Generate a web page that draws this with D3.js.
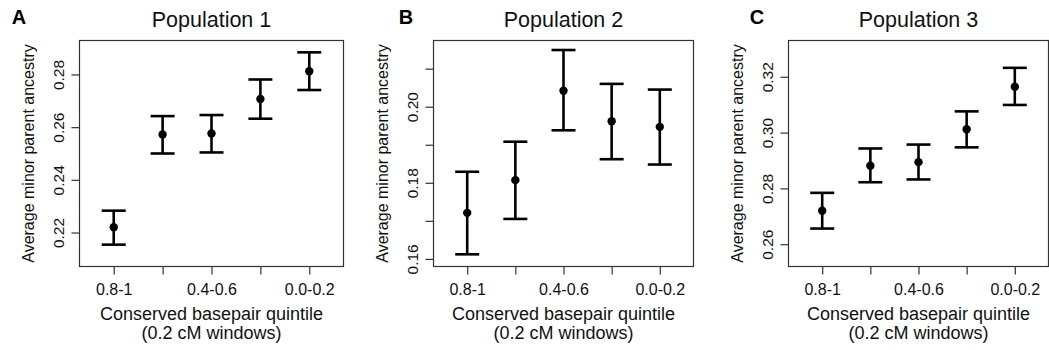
<!DOCTYPE html>
<html>
<head>
<meta charset="utf-8">
<script src="https://cdn.jsdelivr.net/npm/d3@7"></script>
<style>
  body { margin: 0; background: #fff; }
  svg { font-family: "Liberation Sans", Arial, sans-serif; display: block; }
</style>
</head>
<body>
<svg id="fig" width="1049" height="350"></svg>
<script>
// quintiles of conserved basepairs, most conserved first
const categories = ['0.8-1', '0.6-0.8', '0.4-0.6', '0.2-0.4', '0.0-0.2'];
const xTickLabels = ['0.8-1', '', '0.4-0.6', '', '0.0-0.2'];

const panelLetters = ['A', 'B', 'C'];
const panelTitles = ['Population 1', 'Population 2', 'Population 3'];

// population 1
const mean1  = [0.2220, 0.2572, 0.2576, 0.2707, 0.2812];
const lower1 = [0.2154, 0.2500, 0.2504, 0.2632, 0.2741];
const upper1 = [0.2283, 0.2642, 0.2646, 0.2781, 0.2884];
const yTicks1 = [0.22, 0.24, 0.26, 0.28];
const yTickLabels1 = ['0.22', '0.24', '0.26', '0.28'];

// population 2
const mean2  = [0.1721, 0.1807, 0.2042, 0.1962, 0.1947];
const lower2 = [0.1612, 0.1705, 0.1938, 0.1862, 0.1848];
const upper2 = [0.1829, 0.1908, 0.2149, 0.2060, 0.2045];
const yTicks2 = [0.16, 0.17, 0.18, 0.19, 0.20, 0.21];
const yTickLabels2 = ['0.16', '', '0.18', '', '0.20', ''];

// population 3
const mean3  = [0.2720, 0.2881, 0.2894, 0.3012, 0.3164];
const lower3 = [0.2656, 0.2822, 0.2832, 0.2947, 0.3099];
const upper3 = [0.2784, 0.2943, 0.2957, 0.3076, 0.3232];
const yTicks3 = [0.26, 0.28, 0.30, 0.32];
const yTickLabels3 = ['0.26', '0.28', '0.30', '0.32'];

const yDomains = [[0.2071, 0.2929], [0.1580, 0.2174], [0.2520, 0.3330]];

const svg = d3.select('#fig');

const panels = [
  {mean: mean1, lower: lower1, upper: upper1, ticks: yTicks1, labels: yTickLabels1, left: 79.5, width: 264, letterX: 19},
  {mean: mean2, lower: lower2, upper: upper2, ticks: yTicks2, labels: yTickLabels2, left: 433.5, width: 260, letterX: 406},
  {mean: mean3, lower: lower3, upper: upper3, ticks: yTicks3, labels: yTickLabels3, left: 788.5, width: 260, letterX: 757}
];

const plotTop = 40.5, height = 226;

panels.forEach((p, i) => {
  const x = d3.scaleLinear().domain([0.3, 5.7]).range([0, p.width]);
  const y = d3.scaleLinear().domain(yDomains[i]).range([height, 0]);

  const g = svg.append('g').attr('transform', `translate(${p.left},${plotTop})`);

  // panel letter and title
  svg.append('text')
    .attr('x', p.letterX).attr('y', 24)
    .attr('text-anchor', 'middle')
    .attr('font-weight', 'bold')
    .attr('font-size', 20)
    .text(panelLetters[i]);

  g.append('text')
    .attr('x', p.width / 2).attr('y', -14)
    .attr('text-anchor', 'middle')
    .attr('font-size', 21.5)
    .attr('fill', '#111')
    .text(panelTitles[i]);

  // x axis
  const xAxis = g.append('g')
    .attr('transform', `translate(0,${height})`)
    .call(d3.axisBottom(x)
      .tickValues(d3.range(1, categories.length + 1))
      .tickSize(8)
      .tickPadding(9)
      .tickFormat((d, k) => xTickLabels[k]));
  xAxis.select('.domain').remove();
  xAxis.selectAll('line').attr('stroke', '#333').attr('stroke-width', 1.2);
  xAxis.attr('font-size', 16).attr('font-family', null);
  xAxis.selectAll('text').attr('fill', '#111');

  // y axis, labels rotated as in base R
  const yAxis = g.append('g')
    .call(d3.axisLeft(y)
      .tickValues(p.ticks)
      .tickSize(8)
      .tickFormat((d, k) => p.labels[k]));
  yAxis.select('.domain').remove();
  yAxis.selectAll('line').attr('stroke', '#333').attr('stroke-width', 1.2);
  yAxis.attr('font-size', 15.5).attr('font-family', null);
  yAxis.selectAll('text')
    .attr('x', null).attr('dy', null)
    .attr('transform', 'translate(-16,0) rotate(-90)')
    .attr('text-anchor', 'middle')
    .attr('fill', '#111');

  // axis titles
  g.append('text')
    .attr('x', p.width / 2).attr('y', 320 - plotTop)
    .attr('text-anchor', 'middle')
    .attr('font-size', 18).attr('fill', '#111')
    .text('Conserved basepair quintile');
  g.append('text')
    .attr('x', p.width / 2).attr('y', 339 - plotTop)
    .attr('text-anchor', 'middle')
    .attr('font-size', 18).attr('fill', '#111')
    .text('(0.2 cM windows)');
  g.append('text')
    .attr('transform', `translate(-46,${height / 2}) rotate(-90)`)
    .attr('text-anchor', 'middle')
    .attr('font-size', 16).attr('fill', '#111')
    .text('Average minor parent ancestry');

  // box
  g.append('rect')
    .attr('width', p.width).attr('height', height)
    .attr('fill', 'none').attr('stroke', '#333').attr('stroke-width', 1.2);

  // error bars and means
  const idx = d3.range(categories.length);
  const bars = g.append('g').attr('stroke', '#000').attr('stroke-width', 2.6);
  bars.selectAll('.stem').data(idx).join('line').attr('class', 'stem')
    .attr('x1', k => x(k + 1)).attr('x2', k => x(k + 1))
    .attr('y1', k => y(p.lower[k])).attr('y2', k => y(p.upper[k]));
  bars.selectAll('.capTop').data(idx).join('line').attr('class', 'capTop')
    .attr('x1', k => x(k + 1) - 12).attr('x2', k => x(k + 1) + 12)
    .attr('y1', k => y(p.upper[k])).attr('y2', k => y(p.upper[k]));
  bars.selectAll('.capBot').data(idx).join('line').attr('class', 'capBot')
    .attr('x1', k => x(k + 1) - 12).attr('x2', k => x(k + 1) + 12)
    .attr('y1', k => y(p.lower[k])).attr('y2', k => y(p.lower[k]));

  g.selectAll('circle').data(idx).join('circle')
    .attr('cx', k => x(k + 1)).attr('cy', k => y(p.mean[k]))
    .attr('r', 4.2).attr('fill', '#000');
});
</script>
</body>
</html>
